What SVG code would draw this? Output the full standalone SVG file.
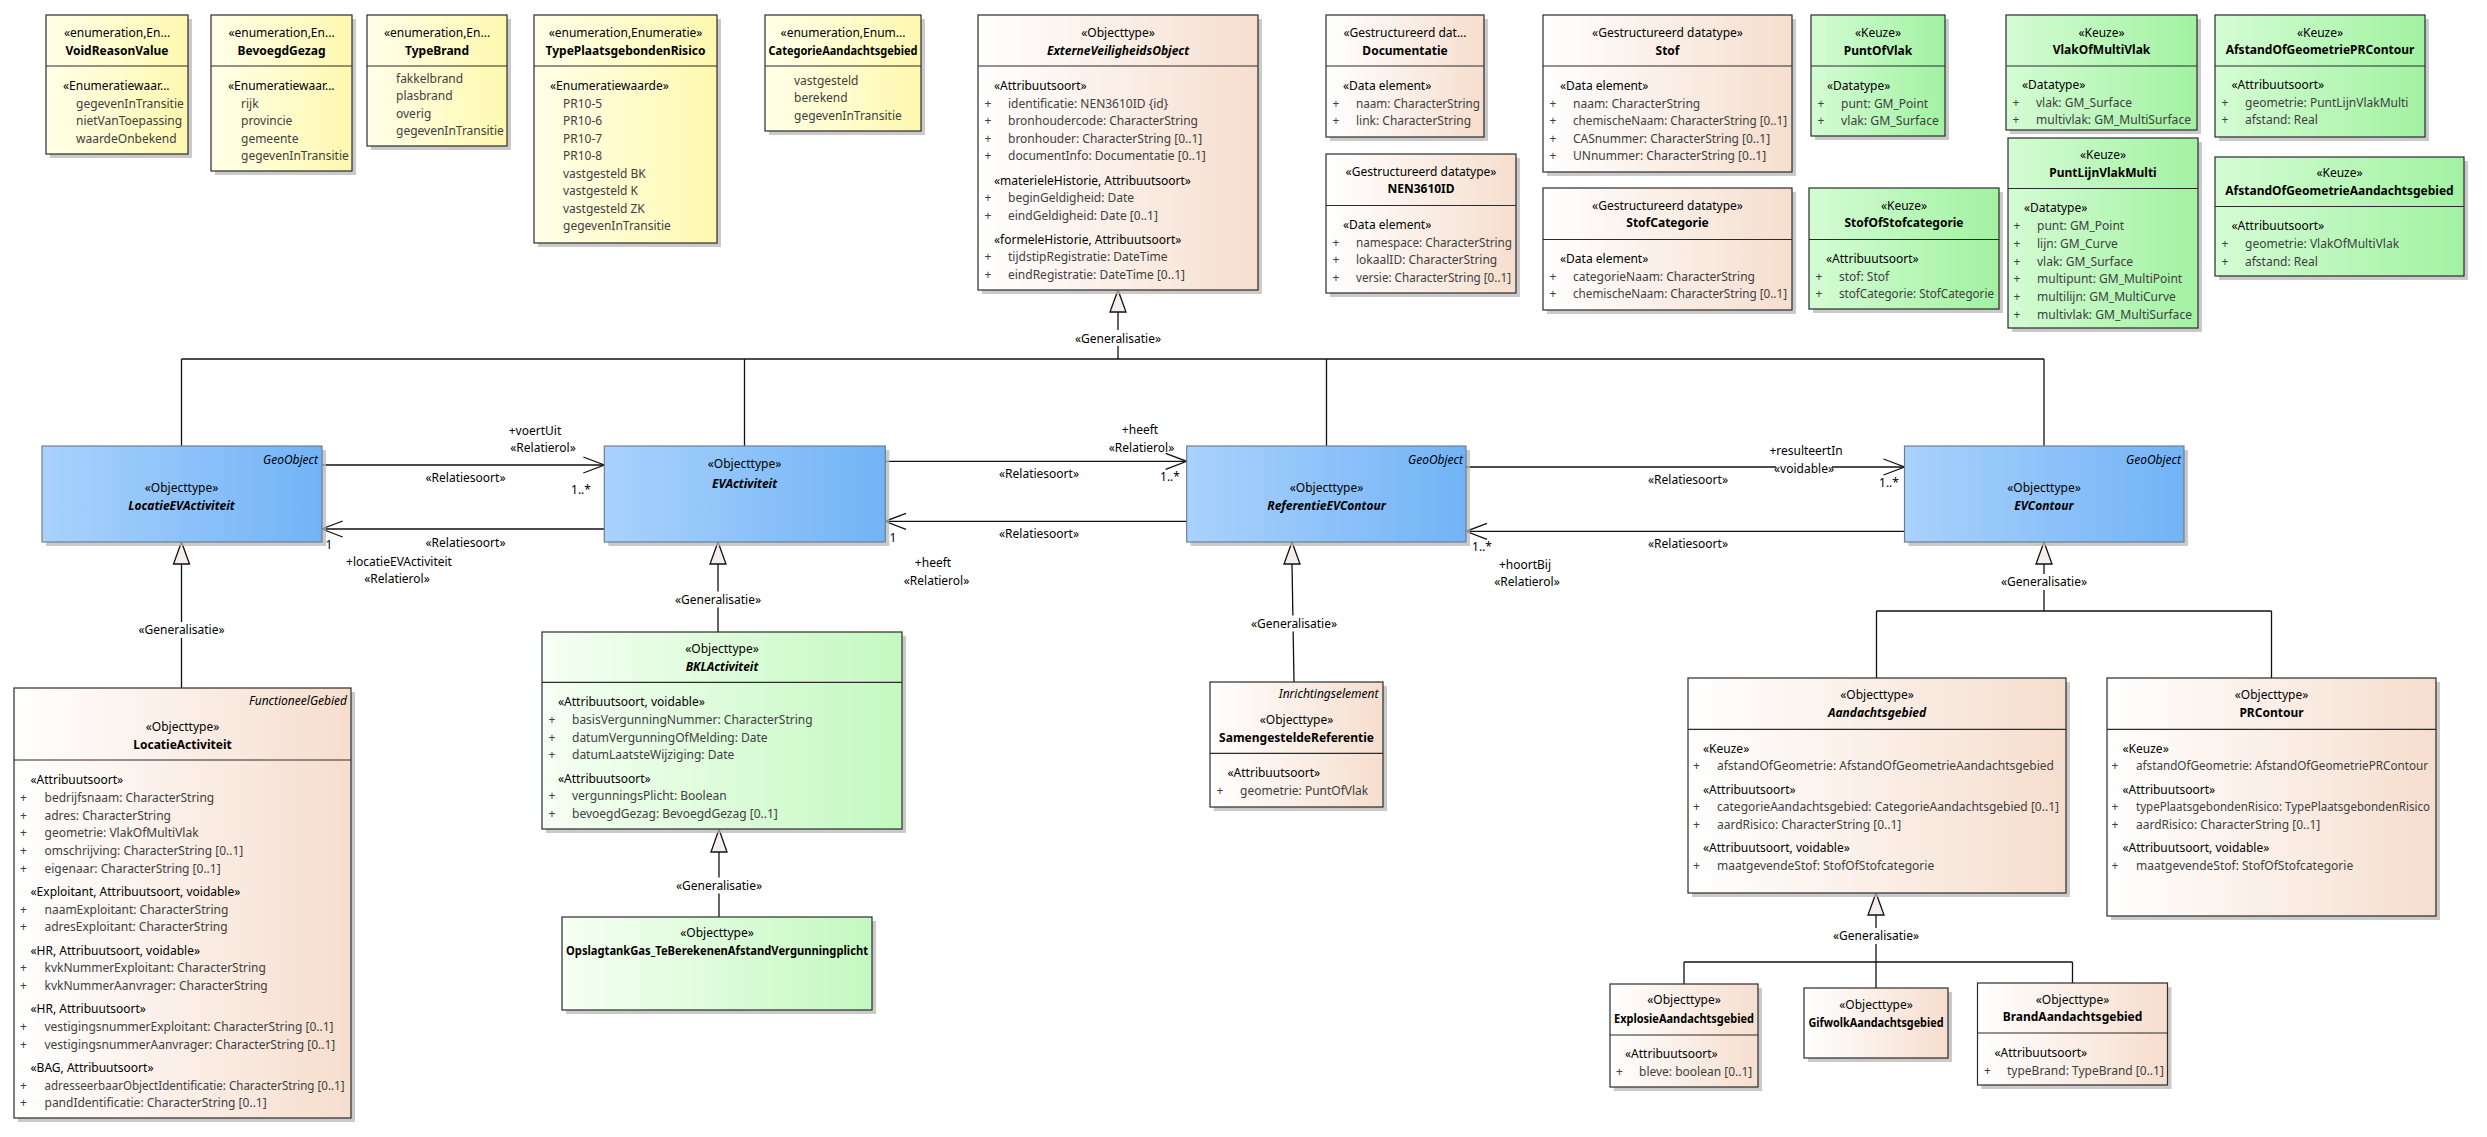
<svg xmlns="http://www.w3.org/2000/svg" width="2487" height="1137" viewBox="0 0 2487 1137">
<defs>
<style>
text{font-family:"Noto Sans","Open Sans","DejaVu Sans",sans-serif;font-size:12px;fill:#000}
.c{text-anchor:middle}
.n{text-anchor:middle;font-weight:bold}
.ni{text-anchor:middle;font-weight:bold;font-style:italic}
.a{fill:#404040}
.p{fill:#404040;text-anchor:middle}
.t{font-style:italic;text-anchor:end}
.box{stroke:#2b2b2b;stroke-width:1.2}
.bb{stroke:#6f7f90;stroke-width:1.2}
.sh{fill:#b8b8b8;opacity:.75}
.dv{stroke:#2b2b2b;stroke-width:1.2}
.ln{stroke:#111;stroke-width:1.3;fill:none}
.tri{fill:#f6eeec;stroke:#111;stroke-width:1.3}
.bg{fill:#fff}
</style>
<linearGradient id="gY" x1="0" y1="0" x2="1" y2="0"><stop offset="0" stop-color="#FFFFE8"/><stop offset="1" stop-color="#FFF8B0"/></linearGradient>
<linearGradient id="gP" x1="0" y1="0" x2="1" y2="0"><stop offset="0" stop-color="#FFFFFF"/><stop offset="1" stop-color="#F6DECE"/></linearGradient>
<linearGradient id="gG" x1="0" y1="0" x2="1" y2="0"><stop offset="0" stop-color="#D4FCD4"/><stop offset="1" stop-color="#A2F2A2"/></linearGradient>
<linearGradient id="gL" x1="0" y1="0" x2="1" y2="0"><stop offset="0" stop-color="#F6FFF4"/><stop offset="1" stop-color="#C4F9C0"/></linearGradient>
<linearGradient id="gB" x1="0" y1="0" x2="1" y2="0"><stop offset="0" stop-color="#A9D2FC"/><stop offset="1" stop-color="#72B3F6"/></linearGradient>
<marker id="arr" viewBox="-2 -10 26 20" refX="21" refY="0" markerWidth="26" markerHeight="20" orient="auto" markerUnits="userSpaceOnUse"><path d="M0,-8 L21,0 L0,8" fill="none" stroke="#111" stroke-width="1.3"/></marker>
</defs>
<rect x="0" y="0" width="2487" height="1137" fill="#fff"/>

<!-- Connectors -->
<g id="connectors">
<!-- top generalisation tree -->
<polygon class="tri" points="1118,290 1110,312 1126,312"/>
<line class="ln" x1="1118" y1="312" x2="1118" y2="359"/>
<line class="ln" x1="181.5" y1="359" x2="2044" y2="359"/>
<line class="ln" x1="181.5" y1="359" x2="181.5" y2="446"/>
<line class="ln" x1="744.5" y1="359" x2="744.5" y2="446"/>
<line class="ln" x1="1326.5" y1="359" x2="1326.5" y2="446"/>
<line class="ln" x1="2044" y1="359" x2="2044" y2="446"/>
<rect class="bg" x="1073" y="330" width="90" height="16"/>
<text class="c" x="1118" y="342.5">«Generalisatie»</text>

<!-- associations -->
<line class="ln" x1="321.7" y1="465" x2="604.3" y2="465" marker-end="url(#arr)"/>
<text class="c" x="535" y="435">+voertUit</text>
<text class="c" x="543" y="452">«Relatierol»</text>
<text class="c" x="465.5" y="482">«Relatiesoort»</text>
<text class="c" x="581" y="494">1..*</text>

<line class="ln" x1="604.3" y1="529" x2="321.7" y2="529" marker-end="url(#arr)"/>
<text class="c" x="465.5" y="547">«Relatiesoort»</text>
<text class="c" x="329" y="548.5">1</text>
<text class="c" x="399" y="566">+locatieEVActiviteit</text>
<text class="c" x="397" y="582.5">«Relatierol»</text>

<line class="ln" x1="885" y1="461.3" x2="1186.7" y2="461.3" marker-end="url(#arr)"/>
<text class="c" x="1140" y="433.5">+heeft</text>
<text class="c" x="1141.5" y="451.5">«Relatierol»</text>
<text class="c" x="1039" y="478">«Relatiesoort»</text>
<text class="c" x="1170" y="481">1..*</text>

<line class="ln" x1="1186.7" y1="521.3" x2="885" y2="521.3" marker-end="url(#arr)"/>
<text class="c" x="1039" y="538">«Relatiesoort»</text>
<text class="c" x="893" y="541.5">1</text>
<text class="c" x="933" y="567">+heeft</text>
<text class="c" x="936.5" y="585">«Relatierol»</text>

<line class="ln" x1="1466" y1="467" x2="1904.5" y2="467" marker-end="url(#arr)"/>
<text class="c" x="1806" y="455">+resulteertIn</text>
<rect class="bg" x="1776" y="461" width="56" height="13"/>
<text class="c" x="1804" y="473">«voidable»</text>
<text class="c" x="1688" y="484">«Relatiesoort»</text>
<text class="c" x="1889" y="487">1..*</text>

<line class="ln" x1="1904.5" y1="531.3" x2="1466" y2="531.3" marker-end="url(#arr)"/>
<text class="c" x="1688" y="548">«Relatiesoort»</text>
<text class="c" x="1482" y="551">1..*</text>
<text class="c" x="1525" y="568.5">+hoortBij</text>
<text class="c" x="1527" y="586">«Relatierol»</text>

<!-- LocatieActiviteit -> LocatieEVActiviteit -->
<polygon class="tri" points="181.5,542 173.5,564 189.5,564"/>
<line class="ln" x1="181.5" y1="564" x2="181.5" y2="688"/>
<rect class="bg" x="136.5" y="622" width="90" height="16"/>
<text class="c" x="181.5" y="634">«Generalisatie»</text>

<!-- BKLActiviteit -> EVActiviteit -->
<polygon class="tri" points="718,542 710,564 726,564"/>
<line class="ln" x1="718" y1="564" x2="718" y2="632"/>
<rect class="bg" x="673" y="591.5" width="90" height="16"/>
<text class="c" x="718" y="603.5">«Generalisatie»</text>

<!-- Opslagtank -> BKLActiviteit -->
<polygon class="tri" points="719,829.3 711,852 727,852"/>
<line class="ln" x1="719" y1="852" x2="719" y2="917"/>
<rect class="bg" x="674" y="877.5" width="90" height="16"/>
<text class="c" x="719" y="889.5">«Generalisatie»</text>

<!-- SamengesteldeReferentie -> ReferentieEVContour -->
<polygon class="tri" points="1292,542 1284,564 1300,564"/>
<line class="ln" x1="1292" y1="564" x2="1294" y2="682"/>
<rect class="bg" x="1249" y="615.5" width="90" height="16"/>
<text class="c" x="1294" y="627.5">«Generalisatie»</text>

<!-- Aandachtsgebied, PRContour -> EVContour -->
<polygon class="tri" points="2044,542 2036,564 2052,564"/>
<line class="ln" x1="2044" y1="564" x2="2044" y2="611"/>
<line class="ln" x1="1876.5" y1="611" x2="2271.5" y2="611"/>
<line class="ln" x1="1876.5" y1="611" x2="1876.5" y2="678"/>
<line class="ln" x1="2271.5" y1="611" x2="2271.5" y2="678"/>
<rect class="bg" x="1999" y="574" width="90" height="16"/>
<text class="c" x="2044" y="586">«Generalisatie»</text>

<!-- Explosie, Gifwolk, Brand -> Aandachtsgebied -->
<polygon class="tri" points="1876,893 1868,915 1884,915"/>
<line class="ln" x1="1876" y1="915" x2="1876" y2="962"/>
<line class="ln" x1="1684" y1="962" x2="2072.5" y2="962"/>
<line class="ln" x1="1684" y1="962" x2="1684" y2="984"/>
<line class="ln" x1="1876" y1="962" x2="1876" y2="988"/>
<line class="ln" x1="2072.5" y1="962" x2="2072.5" y2="983"/>
<rect class="bg" x="1831" y="928" width="90" height="16"/>
<text class="c" x="1876" y="940">«Generalisatie»</text>
</g>

<!-- Enumerations -->
<g id="VoidReasonValue">
<rect class="sh" x="50" y="19" width="142" height="139"/>
<rect class="box" x="46" y="15" width="142" height="139" fill="url(#gY)"/>
<line class="dv" x1="46" y1="66" x2="188" y2="66"/>
<text class="c" x="117" y="37">«enumeration,En...</text>
<text class="n" x="117" y="54.5">VoidReasonValue</text>
<text x="63" y="90">«Enumeratiewaar...</text>
<text class="a" x="76" y="107.5">gegevenInTransitie</text>
<text class="a" x="76" y="125">nietVanToepassing</text>
<text class="a" x="76" y="142.5">waardeOnbekend</text>
</g>

<g id="BevoegdGezag">
<rect class="sh" x="215" y="19" width="141" height="156"/>
<rect class="box" x="211" y="15" width="141" height="156" fill="url(#gY)"/>
<line class="dv" x1="211" y1="66" x2="352" y2="66"/>
<text class="c" x="281.5" y="37">«enumeration,En...</text>
<text class="n" x="281.5" y="54.5">BevoegdGezag</text>
<text x="228" y="90">«Enumeratiewaar...</text>
<text class="a" x="241" y="107.5">rijk</text>
<text class="a" x="241" y="125">provincie</text>
<text class="a" x="241" y="142.5">gemeente</text>
<text class="a" x="241" y="160">gegevenInTransitie</text>
</g>

<g id="TypeBrand">
<rect class="sh" x="371" y="19" width="140" height="131"/>
<rect class="box" x="367" y="15" width="140" height="131" fill="url(#gY)"/>
<line class="dv" x1="367" y1="66" x2="507" y2="66"/>
<text class="c" x="437" y="37">«enumeration,En...</text>
<text class="n" x="437" y="54.5">TypeBrand</text>
<text class="a" x="396" y="82.5">fakkelbrand</text>
<text class="a" x="396" y="100">plasbrand</text>
<text class="a" x="396" y="117.5">overig</text>
<text class="a" x="396" y="135">gegevenInTransitie</text>
</g>

<g id="TypePlaatsgebondenRisico">
<rect class="sh" x="538" y="19" width="183" height="228"/>
<rect class="box" x="534" y="15" width="183" height="228" fill="url(#gY)"/>
<line class="dv" x1="534" y1="66" x2="717" y2="66"/>
<text class="c" x="625.5" y="37">«enumeration,Enumeratie»</text>
<text class="n" x="625.5" y="54.5">TypePlaatsgebondenRisico</text>
<text x="550" y="90">«Enumeratiewaarde»</text>
<text class="a" x="563" y="107.5">PR10-5</text>
<text class="a" x="563" y="125">PR10-6</text>
<text class="a" x="563" y="142.5">PR10-7</text>
<text class="a" x="563" y="160">PR10-8</text>
<text class="a" x="563" y="177.5">vastgesteld BK</text>
<text class="a" x="563" y="195">vastgesteld K</text>
<text class="a" x="563" y="212.5">vastgesteld ZK</text>
<text class="a" x="563" y="230">gegevenInTransitie</text>
</g>

<g id="CategorieAandachtsgebied">
<rect class="sh" x="769" y="19" width="156" height="116"/>
<rect class="box" x="765" y="15" width="156" height="116" fill="url(#gY)"/>
<line class="dv" x1="765" y1="66" x2="921" y2="66"/>
<text class="c" x="843" y="37">«enumeration,Enum...</text>
<text class="n" x="843" y="54.5" textLength="149" lengthAdjust="spacingAndGlyphs">CategorieAandachtsgebied</text>
<text class="a" x="794" y="84.5">vastgesteld</text>
<text class="a" x="794" y="102">berekend</text>
<text class="a" x="794" y="119.5">gegevenInTransitie</text>
</g>

<!-- ExterneVeiligheidsObject -->
<g id="ExterneVeiligheidsObject">
<rect class="sh" x="982" y="19" width="280" height="275"/>
<rect class="box" x="978" y="15" width="280" height="275" fill="url(#gP)"/>
<line class="dv" x1="978" y1="66" x2="1258" y2="66"/>
<text class="c" x="1118" y="37">«Objecttype»</text>
<text class="ni" x="1118" y="54.5">ExterneVeiligheidsObject</text>
<text x="994" y="90">«Attribuutsoort»</text>
<text class="p" x="988" y="107.5">+</text><text class="a" x="1008" y="107.5">identificatie: NEN3610ID {id}</text>
<text class="p" x="988" y="125">+</text><text class="a" x="1008" y="125">bronhoudercode: CharacterString</text>
<text class="p" x="988" y="142.5">+</text><text class="a" x="1008" y="142.5">bronhouder: CharacterString [0..1]</text>
<text class="p" x="988" y="160">+</text><text class="a" x="1008" y="160">documentInfo: Documentatie [0..1]</text>
<text x="994" y="184.5">«materieleHistorie, Attribuutsoort»</text>
<text class="p" x="988" y="202">+</text><text class="a" x="1008" y="202">beginGeldigheid: Date</text>
<text class="p" x="988" y="219.5">+</text><text class="a" x="1008" y="219.5">eindGeldigheid: Date [0..1]</text>
<text x="994" y="243.5">«formeleHistorie, Attribuutsoort»</text>
<text class="p" x="988" y="261">+</text><text class="a" x="1008" y="261">tijdstipRegistratie: DateTime</text>
<text class="p" x="988" y="278.5">+</text><text class="a" x="1008" y="278.5">eindRegistratie: DateTime [0..1]</text>
</g>

<!-- Datatypes -->
<g id="Documentatie">
<rect class="sh" x="1330" y="19" width="158" height="122"/>
<rect class="box" x="1326" y="15" width="158" height="122" fill="url(#gP)"/>
<line class="dv" x1="1326" y1="66" x2="1484" y2="66"/>
<text class="c" x="1405" y="37">«Gestructureerd dat...</text>
<text class="n" x="1405" y="54.5">Documentatie</text>
<text x="1343" y="90">«Data element»</text>
<text class="p" x="1336" y="107.5">+</text><text class="a" x="1356" y="107.5" textLength="124" lengthAdjust="spacingAndGlyphs">naam: CharacterString</text>
<text class="p" x="1336" y="125">+</text><text class="a" x="1356" y="125">link: CharacterString</text>
</g>

<g id="NEN3610ID">
<rect class="sh" x="1330" y="158" width="190" height="139"/>
<rect class="box" x="1326" y="154" width="190" height="139" fill="url(#gP)"/>
<line class="dv" x1="1326" y1="205.5" x2="1516" y2="205.5"/>
<text class="c" x="1421" y="175.5">«Gestructureerd datatype»</text>
<text class="n" x="1421" y="193">NEN3610ID</text>
<text x="1343" y="229">«Data element»</text>
<text class="p" x="1336" y="246.5">+</text><text class="a" x="1356" y="246.5" textLength="156" lengthAdjust="spacingAndGlyphs">namespace: CharacterString</text>
<text class="p" x="1336" y="264">+</text><text class="a" x="1356" y="264">lokaalID: CharacterString</text>
<text class="p" x="1336" y="281.5">+</text><text class="a" x="1356" y="281.5" textLength="155" lengthAdjust="spacingAndGlyphs">versie: CharacterString [0..1]</text>
</g>

<g id="Stof">
<rect class="sh" x="1547" y="19" width="249" height="157"/>
<rect class="box" x="1543" y="15" width="249" height="157" fill="url(#gP)"/>
<line class="dv" x1="1543" y1="66" x2="1792" y2="66"/>
<text class="c" x="1667.5" y="37">«Gestructureerd datatype»</text>
<text class="n" x="1667.5" y="54.5">Stof</text>
<text x="1560" y="90">«Data element»</text>
<text class="p" x="1553" y="107.5">+</text><text class="a" x="1573" y="107.5">naam: CharacterString</text>
<text class="p" x="1553" y="125">+</text><text class="a" x="1573" y="125" textLength="214" lengthAdjust="spacingAndGlyphs">chemischeNaam: CharacterString [0..1]</text>
<text class="p" x="1553" y="142.5">+</text><text class="a" x="1573" y="142.5">CASnummer: CharacterString [0..1]</text>
<text class="p" x="1553" y="160">+</text><text class="a" x="1573" y="160">UNnummer: CharacterString [0..1]</text>
</g>

<g id="StofCategorie">
<rect class="sh" x="1547" y="192" width="249" height="122"/>
<rect class="box" x="1543" y="188" width="249" height="122" fill="url(#gP)"/>
<line class="dv" x1="1543" y1="239.5" x2="1792" y2="239.5"/>
<text class="c" x="1667.5" y="209.5">«Gestructureerd datatype»</text>
<text class="n" x="1667.5" y="227">StofCategorie</text>
<text x="1560" y="263">«Data element»</text>
<text class="p" x="1553" y="280.5">+</text><text class="a" x="1573" y="280.5">categorieNaam: CharacterString</text>
<text class="p" x="1553" y="298">+</text><text class="a" x="1573" y="298" textLength="214" lengthAdjust="spacingAndGlyphs">chemischeNaam: CharacterString [0..1]</text>
</g>

<!-- Keuze -->
<g id="PuntOfVlak">
<rect class="sh" x="1815" y="19" width="134" height="121"/>
<rect class="box" x="1811" y="15" width="134" height="121" fill="url(#gG)"/>
<line class="dv" x1="1811" y1="66" x2="1945" y2="66"/>
<text class="c" x="1878" y="37">«Keuze»</text>
<text class="n" x="1878" y="54.5">PuntOfVlak</text>
<text x="1827" y="90">«Datatype»</text>
<text class="p" x="1821" y="107.5">+</text><text class="a" x="1841" y="107.5">punt: GM_Point</text>
<text class="p" x="1821" y="125">+</text><text class="a" x="1841" y="125" textLength="98" lengthAdjust="spacingAndGlyphs">vlak: GM_Surface</text>
</g>

<g id="VlakOfMultiVlak">
<rect class="sh" x="2010" y="19" width="191" height="115"/>
<rect class="box" x="2006" y="15" width="191" height="115" fill="url(#gG)"/>
<line class="dv" x1="2006" y1="66" x2="2197" y2="66"/>
<text class="c" x="2101.5" y="36.5">«Keuze»</text>
<text class="n" x="2101.5" y="54">VlakOfMultiVlak</text>
<text x="2022" y="89">«Datatype»</text>
<text class="p" x="2016" y="106.5">+</text><text class="a" x="2036" y="106.5">vlak: GM_Surface</text>
<text class="p" x="2016" y="124">+</text><text class="a" x="2036" y="124" textLength="155" lengthAdjust="spacingAndGlyphs">multivlak: GM_MultiSurface</text>
</g>

<g id="AfstandOfGeometriePRContour">
<rect class="sh" x="2219" y="19" width="210" height="122"/>
<rect class="box" x="2215" y="15" width="210" height="122" fill="url(#gG)"/>
<line class="dv" x1="2215" y1="66" x2="2425" y2="66"/>
<text class="c" x="2320" y="36.5">«Keuze»</text>
<text class="n" x="2320" y="54">AfstandOfGeometriePRContour</text>
<text x="2231.5" y="89">«Attribuutsoort»</text>
<text class="p" x="2225" y="106.5">+</text><text class="a" x="2245" y="106.5">geometrie: PuntLijnVlakMulti</text>
<text class="p" x="2225" y="124">+</text><text class="a" x="2245" y="124">afstand: Real</text>
</g>

<g id="StofOfStofcategorie">
<rect class="sh" x="1813" y="192" width="190" height="121"/>
<rect class="box" x="1809" y="188" width="190" height="121" fill="url(#gG)"/>
<line class="dv" x1="1809" y1="239.5" x2="1999" y2="239.5"/>
<text class="c" x="1904" y="209.5">«Keuze»</text>
<text class="n" x="1904" y="227">StofOfStofcategorie</text>
<text x="1826" y="263">«Attribuutsoort»</text>
<text class="p" x="1819" y="280.5">+</text><text class="a" x="1839" y="280.5">stof: Stof</text>
<text class="p" x="1819" y="298">+</text><text class="a" x="1839" y="298" textLength="155" lengthAdjust="spacingAndGlyphs">stofCategorie: StofCategorie</text>
</g>

<g id="PuntLijnVlakMulti">
<rect class="sh" x="2012" y="142" width="190" height="190"/>
<rect class="box" x="2008" y="138" width="190" height="190" fill="url(#gG)"/>
<line class="dv" x1="2008" y1="188.5" x2="2198" y2="188.5"/>
<text class="c" x="2103" y="158.5">«Keuze»</text>
<text class="n" x="2103" y="176.5">PuntLijnVlakMulti</text>
<text x="2024" y="212">«Datatype»</text>
<text class="p" x="2017" y="230">+</text><text class="a" x="2037" y="230">punt: GM_Point</text>
<text class="p" x="2017" y="248">+</text><text class="a" x="2037" y="248">lijn: GM_Curve</text>
<text class="p" x="2017" y="265.5">+</text><text class="a" x="2037" y="265.5">vlak: GM_Surface</text>
<text class="p" x="2017" y="283">+</text><text class="a" x="2037" y="283">multipunt: GM_MultiPoint</text>
<text class="p" x="2017" y="301">+</text><text class="a" x="2037" y="301">multilijn: GM_MultiCurve</text>
<text class="p" x="2017" y="318.5">+</text><text class="a" x="2037" y="318.5" textLength="155" lengthAdjust="spacingAndGlyphs">multivlak: GM_MultiSurface</text>
</g>

<g id="AfstandOfGeometrieAandachtsgebied">
<rect class="sh" x="2219" y="161" width="249" height="119"/>
<rect class="box" x="2215" y="157" width="249" height="119" fill="url(#gG)"/>
<line class="dv" x1="2215" y1="206.5" x2="2464" y2="206.5"/>
<text class="c" x="2339.5" y="176.5">«Keuze»</text>
<text class="n" x="2339.5" y="194.5">AfstandOfGeometrieAandachtsgebied</text>
<text x="2231.5" y="230">«Attribuutsoort»</text>
<text class="p" x="2225" y="247.5">+</text><text class="a" x="2245" y="247.5">geometrie: VlakOfMultiVlak</text>
<text class="p" x="2225" y="265.5">+</text><text class="a" x="2245" y="265.5">afstand: Real</text>
</g>

<!-- Blue abstract objecttypes -->
<g id="LocatieEVActiviteit">
<rect class="sh" x="46" y="450" width="280" height="96"/>
<rect class="bb" x="42" y="446" width="280" height="96" fill="url(#gB)"/>
<text class="t" x="318" y="463.5">GeoObject</text>
<text class="c" x="181.5" y="491.5">«Objecttype»</text>
<text class="ni" x="181.5" y="510">LocatieEVActiviteit</text>
</g>

<g id="EVActiviteit">
<rect class="sh" x="608.3" y="450" width="281" height="96"/>
<rect class="bb" x="604.3" y="446" width="281" height="96" fill="url(#gB)"/>
<text class="c" x="744.5" y="467.5">«Objecttype»</text>
<text class="ni" x="744.5" y="487.5">EVActiviteit</text>
</g>

<g id="ReferentieEVContour">
<rect class="sh" x="1190.7" y="450" width="279.3" height="96"/>
<rect class="bb" x="1186.7" y="446" width="279.3" height="96" fill="url(#gB)"/>
<text class="t" x="1463" y="463.5">GeoObject</text>
<text class="c" x="1326.5" y="491.5">«Objecttype»</text>
<text class="ni" x="1326.5" y="510">ReferentieEVContour</text>
</g>

<g id="EVContour">
<rect class="sh" x="1908.5" y="450" width="279.5" height="96"/>
<rect class="bb" x="1904.5" y="446" width="279.5" height="96" fill="url(#gB)"/>
<text class="t" x="2181" y="463.5">GeoObject</text>
<text class="c" x="2044" y="491.5">«Objecttype»</text>
<text class="ni" x="2044" y="510">EVContour</text>
</g>

<!-- LocatieActiviteit -->
<g id="LocatieActiviteit">
<rect class="sh" x="18" y="692" width="337" height="430"/>
<rect class="box" x="14" y="688" width="337" height="430" fill="url(#gP)"/>
<line class="dv" x1="14" y1="760" x2="351" y2="760"/>
<text class="t" x="347" y="705">FunctioneelGebied</text>
<text class="c" x="182.5" y="731">«Objecttype»</text>
<text class="n" x="182.5" y="748.5">LocatieActiviteit</text>
<text x="30.5" y="783.5">«Attribuutsoort»</text>
<text class="p" x="23.5" y="801.5">+</text><text class="a" x="44.5" y="801.5">bedrijfsnaam: CharacterString</text>
<text class="p" x="23.5" y="819.5">+</text><text class="a" x="44.5" y="819.5">adres: CharacterString</text>
<text class="p" x="23.5" y="837">+</text><text class="a" x="44.5" y="837">geometrie: VlakOfMultiVlak</text>
<text class="p" x="23.5" y="855">+</text><text class="a" x="44.5" y="855">omschrijving: CharacterString [0..1]</text>
<text class="p" x="23.5" y="873">+</text><text class="a" x="44.5" y="873">eigenaar: CharacterString [0..1]</text>
<text x="30.5" y="896">«Exploitant, Attribuutsoort, voidable»</text>
<text class="p" x="23.5" y="914">+</text><text class="a" x="44.5" y="914">naamExploitant: CharacterString</text>
<text class="p" x="23.5" y="931">+</text><text class="a" x="44.5" y="931">adresExploitant: CharacterString</text>
<text x="30.5" y="954.5">«HR, Attribuutsoort, voidable»</text>
<text class="p" x="23.5" y="972">+</text><text class="a" x="44.5" y="972">kvkNummerExploitant: CharacterString</text>
<text class="p" x="23.5" y="990">+</text><text class="a" x="44.5" y="990">kvkNummerAanvrager: CharacterString</text>
<text x="30.5" y="1013">«HR, Attribuutsoort»</text>
<text class="p" x="23.5" y="1031">+</text><text class="a" x="44.5" y="1031">vestigingsnummerExploitant: CharacterString [0..1]</text>
<text class="p" x="23.5" y="1049">+</text><text class="a" x="44.5" y="1049">vestigingsnummerAanvrager: CharacterString [0..1]</text>
<text x="30.5" y="1072">«BAG, Attribuutsoort»</text>
<text class="p" x="23.5" y="1090">+</text><text class="a" x="44.5" y="1090" textLength="300" lengthAdjust="spacingAndGlyphs">adresseerbaarObjectIdentificatie: CharacterString [0..1]</text>
<text class="p" x="23.5" y="1107">+</text><text class="a" x="44.5" y="1107">pandIdentificatie: CharacterString [0..1]</text>
</g>

<!-- BKLActiviteit -->
<g id="BKLActiviteit">
<rect class="sh" x="546" y="636" width="360" height="197"/>
<rect class="box" x="542" y="632" width="360" height="197" fill="url(#gL)"/>
<line class="dv" x1="542" y1="682.3" x2="902" y2="682.3"/>
<text class="c" x="722" y="653">«Objecttype»</text>
<text class="ni" x="722" y="671">BKLActiviteit</text>
<text x="558" y="705.5">«Attribuutsoort, voidable»</text>
<text class="p" x="552" y="723.5">+</text><text class="a" x="572" y="723.5">basisVergunningNummer: CharacterString</text>
<text class="p" x="552" y="741.5">+</text><text class="a" x="572" y="741.5">datumVergunningOfMelding: Date</text>
<text class="p" x="552" y="758.5">+</text><text class="a" x="572" y="758.5">datumLaatsteWijziging: Date</text>
<text x="558" y="783">«Attribuutsoort»</text>
<text class="p" x="552" y="800">+</text><text class="a" x="572" y="800">vergunningsPlicht: Boolean</text>
<text class="p" x="552" y="817.5">+</text><text class="a" x="572" y="817.5">bevoegdGezag: BevoegdGezag [0..1]</text>
</g>

<g id="OpslagtankGas_TeBerekenenAfstandVergunningplicht">
<rect class="sh" x="566" y="921" width="310" height="93"/>
<rect class="box" x="562" y="917" width="310" height="93" fill="url(#gL)"/>
<text class="c" x="717" y="936.5">«Objecttype»</text>
<text class="n" x="717" y="954.5" textLength="302" lengthAdjust="spacingAndGlyphs">OpslagtankGas_TeBerekenenAfstandVergunningplicht</text>
</g>

<!-- SamengesteldeReferentie -->
<g id="SamengesteldeReferentie">
<rect class="sh" x="1214" y="686" width="173" height="125"/>
<rect class="box" x="1210" y="682" width="173" height="125" fill="url(#gP)"/>
<line class="dv" x1="1210" y1="753.3" x2="1383" y2="753.3"/>
<text class="t" x="1378.5" y="697.5">Inrichtingselement</text>
<text class="c" x="1296.5" y="724">«Objecttype»</text>
<text class="n" x="1296.5" y="741.5">SamengesteldeReferentie</text>
<text x="1227.5" y="776.5">«Attribuutsoort»</text>
<text class="p" x="1220" y="795">+</text><text class="a" x="1240" y="795">geometrie: PuntOfVlak</text>
</g>

<!-- Aandachtsgebied -->
<g id="Aandachtsgebied">
<rect class="sh" x="1692" y="682" width="378" height="215"/>
<rect class="box" x="1688" y="678" width="378" height="215" fill="url(#gP)"/>
<line class="dv" x1="1688" y1="729.3" x2="2066" y2="729.3"/>
<text class="c" x="1877" y="698.5">«Objecttype»</text>
<text class="ni" x="1877" y="716.5">Aandachtsgebied</text>
<text x="1703" y="752.5">«Keuze»</text>
<text class="p" x="1696.5" y="770">+</text><text class="a" x="1717" y="770" textLength="337" lengthAdjust="spacingAndGlyphs">afstandOfGeometrie: AfstandOfGeometrieAandachtsgebied</text>
<text x="1703" y="793.5">«Attribuutsoort»</text>
<text class="p" x="1696.5" y="811">+</text><text class="a" x="1717" y="811" textLength="342" lengthAdjust="spacingAndGlyphs">categorieAandachtsgebied: CategorieAandachtsgebied [0..1]</text>
<text class="p" x="1696.5" y="829">+</text><text class="a" x="1717" y="829">aardRisico: CharacterString [0..1]</text>
<text x="1703" y="851.5">«Attribuutsoort, voidable»</text>
<text class="p" x="1696.5" y="870">+</text><text class="a" x="1717" y="870">maatgevendeStof: StofOfStofcategorie</text>
</g>

<!-- PRContour -->
<g id="PRContour">
<rect class="sh" x="2111" y="682" width="329" height="238"/>
<rect class="box" x="2107" y="678" width="329" height="238" fill="url(#gP)"/>
<line class="dv" x1="2107" y1="729.3" x2="2436" y2="729.3"/>
<text class="c" x="2271.5" y="698.5">«Objecttype»</text>
<text class="n" x="2271.5" y="716.5">PRContour</text>
<text x="2122.5" y="752.5">«Keuze»</text>
<text class="p" x="2115" y="770">+</text><text class="a" x="2136" y="770" textLength="292" lengthAdjust="spacingAndGlyphs">afstandOfGeometrie: AfstandOfGeometriePRContour</text>
<text x="2122.5" y="793.5">«Attribuutsoort»</text>
<text class="p" x="2115" y="811">+</text><text class="a" x="2136" y="811" textLength="294" lengthAdjust="spacingAndGlyphs">typePlaatsgebondenRisico: TypePlaatsgebondenRisico</text>
<text class="p" x="2115" y="829">+</text><text class="a" x="2136" y="829">aardRisico: CharacterString [0..1]</text>
<text x="2122.5" y="851.5">«Attribuutsoort, voidable»</text>
<text class="p" x="2115" y="870">+</text><text class="a" x="2136" y="870">maatgevendeStof: StofOfStofcategorie</text>
</g>

<!-- Subtypes of Aandachtsgebied -->
<g id="ExplosieAandachtsgebied">
<rect class="sh" x="1614" y="988" width="148" height="103"/>
<rect class="box" x="1610" y="984" width="148" height="103" fill="url(#gP)"/>
<line class="dv" x1="1610" y1="1035" x2="1758" y2="1035"/>
<text class="c" x="1684" y="1004">«Objecttype»</text>
<text class="n" x="1684" y="1022.5" textLength="140" lengthAdjust="spacingAndGlyphs">ExplosieAandachtsgebied</text>
<text x="1625" y="1057.5">«Attribuutsoort»</text>
<text class="p" x="1619.5" y="1076">+</text><text class="a" x="1639" y="1076">bleve: boolean [0..1]</text>
</g>

<g id="GifwolkAandachtsgebied">
<rect class="sh" x="1808" y="992" width="144" height="70"/>
<rect class="box" x="1804" y="988" width="144" height="70" fill="url(#gP)"/>
<text class="c" x="1876" y="1008.5">«Objecttype»</text>
<text class="n" x="1876" y="1026.5" textLength="135" lengthAdjust="spacingAndGlyphs">GifwolkAandachtsgebied</text>
</g>

<g id="BrandAandachtsgebied">
<rect class="sh" x="1981.5" y="987" width="190" height="102"/>
<rect class="box" x="1977.5" y="983" width="190" height="102" fill="url(#gP)"/>
<line class="dv" x1="1977.5" y1="1033" x2="2167.5" y2="1033"/>
<text class="c" x="2072.5" y="1003.5">«Objecttype»</text>
<text class="n" x="2072.5" y="1021">BrandAandachtsgebied</text>
<text x="1994.5" y="1056.5">«Attribuutsoort»</text>
<text class="p" x="1987.5" y="1075">+</text><text class="a" x="2007" y="1075">typeBrand: TypeBrand [0..1]</text>
</g>
</svg>
